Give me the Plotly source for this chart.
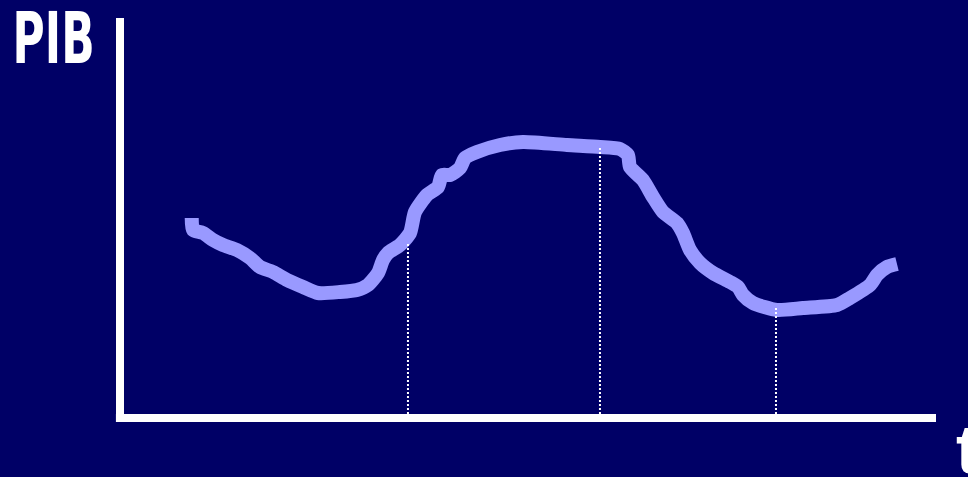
import plotly.graph_objects as go

# Time (arbitrary units 0-100) and PIB (arbitrary units 0-100)
t_vals = [8.79, 8.95, 10.17, 11.40, 12.62, 14.34, 15.93, 17.16, 18.75, 20.47, 22.43, 24.26,
          26.96, 29.04, 30.39, 31.62, 32.23, 32.84, 34.31, 35.54, 36.15, 37.62, 38.97, 39.46,
          40.44, 41.67, 42.28, 43.75, 46.57, 49.39, 54.78, 58.82, 61.27, 62.25, 62.50, 64.09,
          65.32, 66.54, 68.26, 68.99, 69.85, 71.08, 72.67, 74.75, 75.74, 76.35, 77.57, 80.51,
          83.70, 87.87, 89.46, 91.91, 92.77, 93.99, 95.22]
pib_vals = [50.0, 47.0, 46.25, 44.5, 43.25, 42.0, 40.0, 37.75, 36.5, 34.5, 32.75, 31.25,
            31.5, 32.0, 33.25, 36.25, 39.5, 41.25, 43.25, 46.25, 51.5, 55.75, 57.75, 60.75,
            60.75, 62.5, 65.0, 66.5, 68.25, 69.0, 68.25, 67.75, 67.25, 65.75, 62.75, 59.5,
            55.25, 51.5, 48.75, 46.25, 42.0, 38.75, 36.25, 34.0, 32.75, 30.75, 28.75, 27.0,
            27.5, 28.25, 30.0, 33.25, 35.75, 37.75, 38.5]

# Dotted reference lines (time, PIB at the curve)
ref_t = [35.29, 58.82, 80.39]
ref_pib = [43.75, 67.75, 28.0]

BG = "#000066"
CURVE = "#9999FF"

fig = go.Figure()
fig.add_trace(go.Scatter(x=t_vals, y=pib_vals, mode="lines",
                         line=dict(color=CURVE, width=14, shape="spline", smoothing=0.6),
                         hoverinfo="skip", showlegend=False))
for tx, py in zip(ref_t, ref_pib):
    fig.add_trace(go.Scatter(x=[tx, tx], y=[0, py], mode="lines",
                             line=dict(color="white", width=2, dash="2px,2px"),
                             hoverinfo="skip", showlegend=False))

# axes drawn as thick white lines along the plot edges
fig.add_shape(type="line", xref="paper", yref="paper", x0=0, x1=0, y0=0, y1=1,
              line=dict(color="white", width=8))
fig.add_shape(type="line", xref="paper", yref="paper", x0=-0.005, x1=1, y0=0, y1=0,
              line=dict(color="white", width=8))

fig.add_annotation(text="<b>PIB</b>", xref="paper", yref="paper", x=-0.0809, y=1.0575,
                   xanchor="center", yanchor="top", showarrow=False, name="pib",
                   font=dict(family="DejaVu Sans Condensed, Roboto Condensed, Roboto, sans-serif",
                             size=71, color="white"))
fig.add_annotation(text="<b>t</b>", xref="paper", yref="paper", x=1.022, y=0.0225,
                   xanchor="left", yanchor="top", showarrow=False,
                   font=dict(family="Liberation Sans, Arial, sans-serif", size=68, color="white"))

fig.update_layout(
    width=968, height=477,
    margin=dict(l=120, r=32, t=18, b=59),
    paper_bgcolor=BG, plot_bgcolor=BG,
    xaxis=dict(range=[0, 100], visible=False, showgrid=False, zeroline=False),
    yaxis=dict(range=[0, 100], visible=False, showgrid=False, zeroline=False),
    showlegend=False,
)

post = """
document.body.style.margin='0';
document.body.style.background='#000066';
var ts = document.querySelectorAll('text.annotation-text');
ts.forEach(function(t){
  if (t.textContent === 'PIB') {
    t.setAttribute('textLength', '82');
    t.setAttribute('lengthAdjust', 'spacingAndGlyphs');
  }
});
"""
fig.write_html("out.html", post_script=post, config={"displayModeBar": False})
